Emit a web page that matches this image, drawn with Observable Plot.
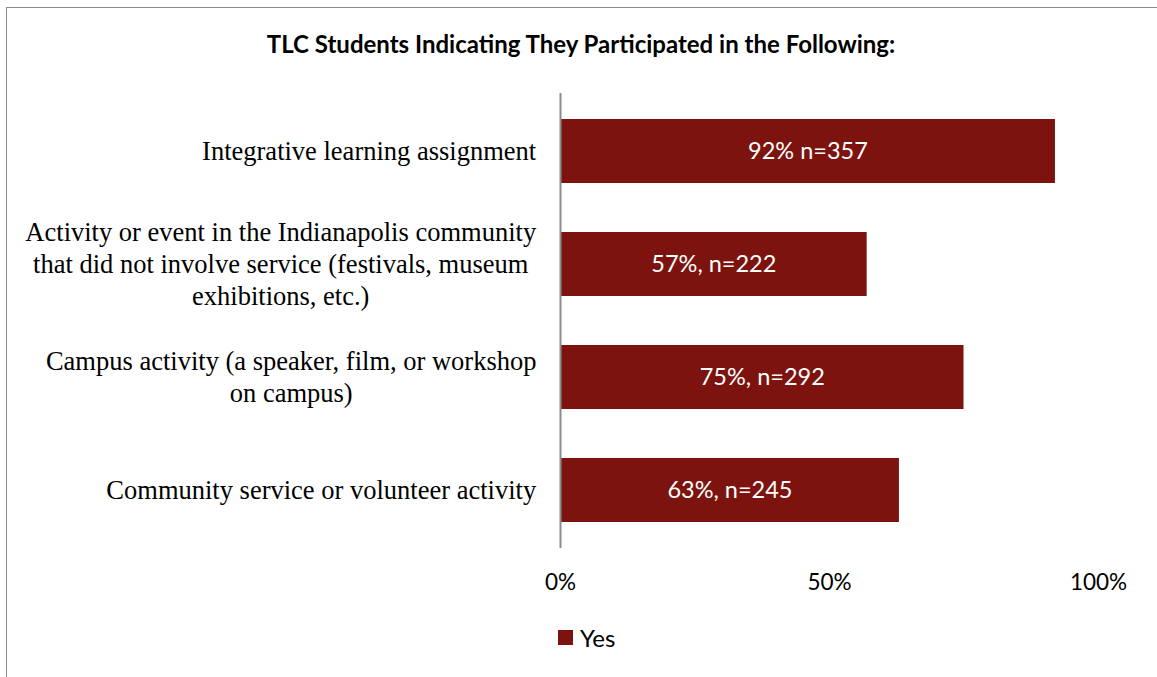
<!DOCTYPE html>
<html><head><meta charset="utf-8">
<script src="https://cdn.jsdelivr.net/npm/d3@7"></script>
<script src="https://cdn.jsdelivr.net/npm/@observablehq/plot@0.6"></script>
<style>
body{margin:0;background:#fff;}
#page{position:relative;width:1157px;height:677px;overflow:hidden;background:#fff;}
#frame{position:absolute;left:6px;top:7px;width:1200px;height:700px;border:1.5px solid #8c8c8c;}
#title{position:absolute;left:0;width:1162px;top:29px;text-align:center;font:bold 24px Lato;color:#000;}
#chart{position:absolute;left:0;top:0;}
#legend{position:absolute;left:558px;top:623px;font:24px Lato;display:flex;align-items:center;color:#000;}
#legend .sw{width:15px;height:15px;background:#7d130e;margin-right:7px;}
</style></head>
<body>
<div id="page">
<div id="frame"></div>
<div id="title">TLC Students Indicating They Participated in the Following:</div>
<div id="chart"></div>
<div id="legend"><span class="sw"></span><span>Yes</span></div>
</div>
<script>
const categories = [
  "Integrative learning assignment",
  "Activity or event in the Indianapolis community\nthat did not involve service (festivals, museum\nexhibitions, etc.)",
  "Campus activity (a speaker, film, or workshop\non campus)",
  "Community service or volunteer activity"
];
const values = [92, 57, 75, 63];
const barLabels = ["92% n=357", "57%, n=222", "75%, n=292", "63%, n=245"];
const xTicks = [0, 50, 100];
const seriesName = "Yes";

const data = categories.map((c, i) => ({category: c, value: values[i], label: barLabels[i]}));
const barColor = "#7d130e";

const chart = Plot.plot({
  width: 1157,
  height: 600,
  marginLeft: 560,
  marginRight: 59,
  marginTop: 93,
  marginBottom: 52,
  style: {background: "transparent", color: "#000"},
  x: {domain: [0, 100], label: null},
  y: {domain: categories, paddingInner: 0.43, paddingOuter: 0.215, label: null},
  marks: [
    Plot.barX(data, {x: "value", y: "category", fill: barColor}),
    Plot.ruleX([0], {stroke: "#8c8c8c", strokeWidth: 2}),
    Plot.text(data, {x: d => d.value / 2, y: "category", text: "label", fill: "white", fontSize: 23.5, fontFamily: "Lato"}),
    Plot.axisX(xTicks, {tickSize: 0, tickPadding: 26, tickFormat: d => d + "%", fontSize: 22.5, fontFamily: "Lato", fill: "#000", label: null}),
    Plot.axisY({tickSize: 0, tickPadding: 24, fontSize: 26.5, fontFamily: "Liberation Serif", lineHeight: 1.21, fill: "#000", dy: -2, label: null})
  ]
});
document.getElementById("chart").appendChild(chart);

// centre multi-line labels within their right-aligned block
const g = chart.querySelector('g[aria-label="y-axis tick label"]');
if (g) {
  g.querySelectorAll("text").forEach(t => {
    const w = t.getBBox().width;
    t.setAttribute("text-anchor", "middle");
    const tr = t.getAttribute("transform") || "";
    t.setAttribute("transform", tr + ` translate(${-w / 2},0)`);
  });
}
</script>
</body></html>
